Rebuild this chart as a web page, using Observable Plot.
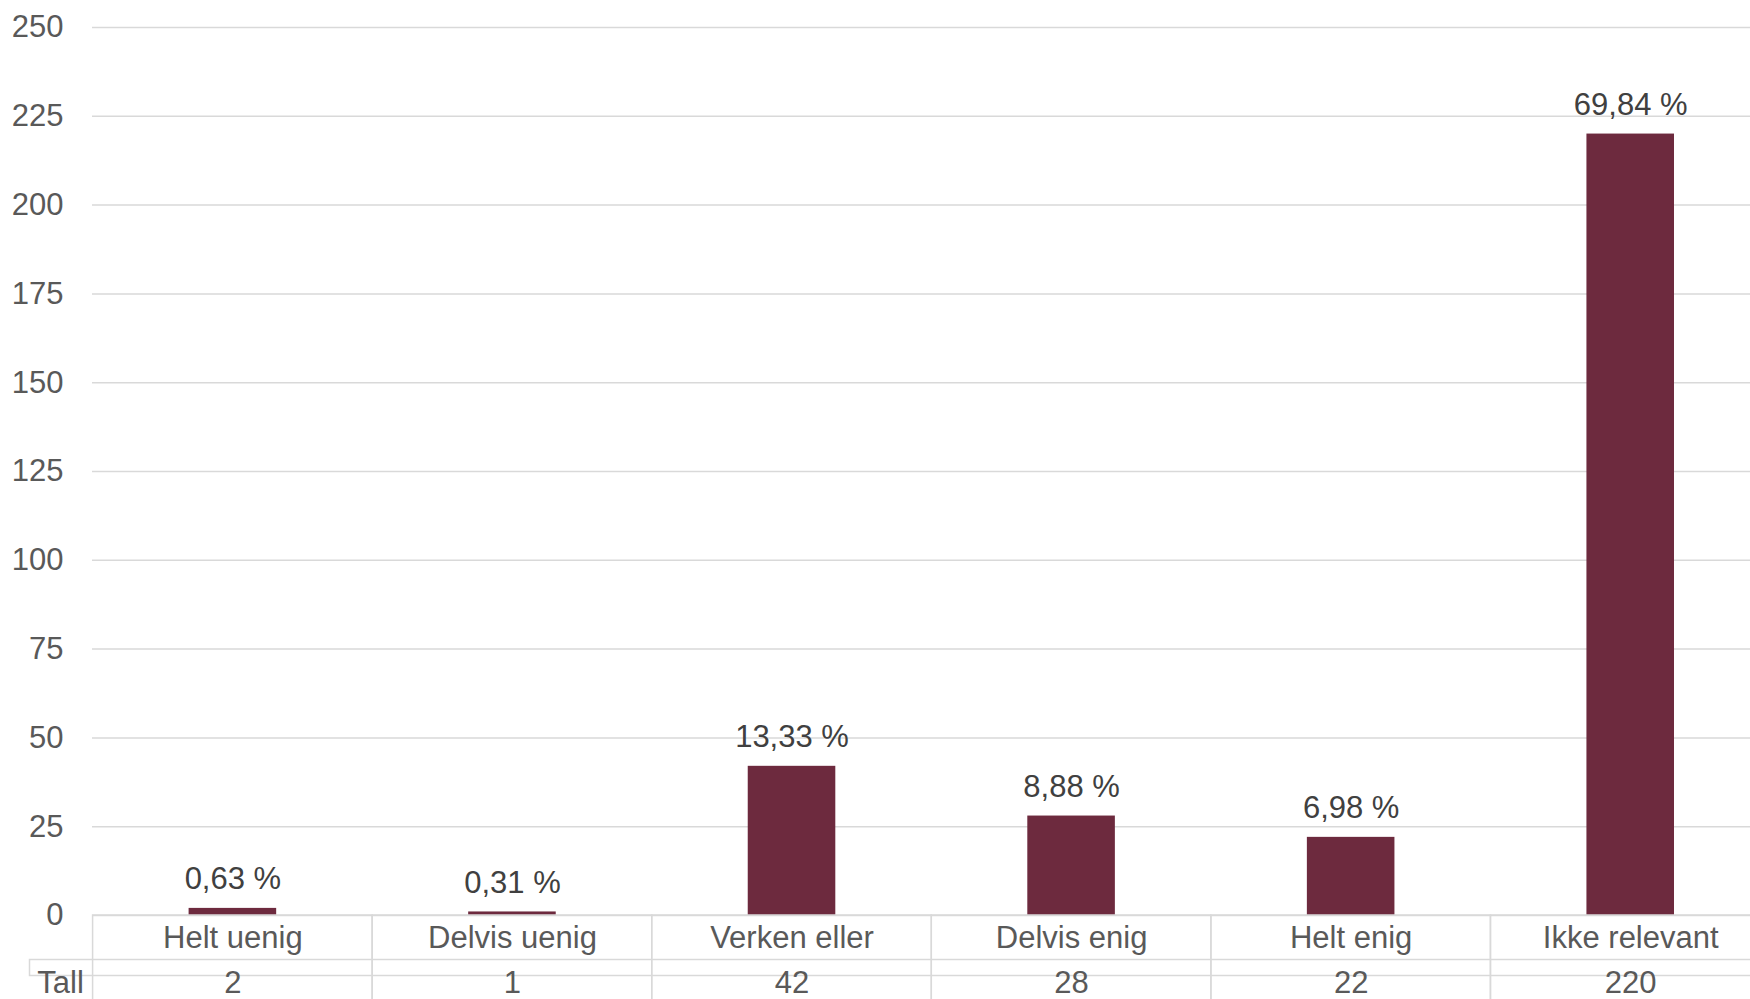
<!DOCTYPE html>
<html><head><meta charset="utf-8">
<script src="https://cdn.jsdelivr.net/npm/d3@7"></script>
<script src="https://cdn.jsdelivr.net/npm/@observablehq/plot@0.6"></script>
<style>html,body{margin:0;padding:0;background:#fff;overflow:hidden}</style>
</head><body><div id="chart"></div>
<script>
const categories = ["Helt uenig", "Delvis uenig", "Verken eller", "Delvis enig", "Helt enig", "Ikke relevant"];
const counts = [2, 1, 42, 28, 22, 220];
const percentLabels = ["0,63 %", "0,31 %", "13,33 %", "8,88 %", "6,98 %", "69,84 %"];
const yTicks = [0, 25, 50, 75, 100, 125, 150, 175, 200, 225, 250];
const rowHeader = "Tall";

const rows = categories.map((c, i) => ({category: c, count: counts[i], pct: percentLabels[i]}));
const grid = "#d9d9d9";

const chart = Plot.plot({
  width: 1750, height: 999,
  marginTop: 27, marginBottom: 84, marginLeft: 92, marginRight: 0,
  style: {fontFamily: "'Liberation Sans', Arial, sans-serif", fontSize: "31px", color: "#595959", background: "#fff"},
  x: {domain: categories, range: [92.6, 1770], padding: 0, round: false, axis: null},
  y: {domain: [0, 250], ticks: yTicks, tickSize: 0, tickPadding: 29, label: null},
  marks: [
    Plot.ruleY(yTicks, {stroke: grid, strokeWidth: 1.5}),
    Plot.barY(rows, {x: "category", y: "count", fill: "#6D2A3E", insetLeft: 96, insetRight: 96}),
    Plot.text(rows, {x: "category", y: "count", text: "pct", dy: -19, lineAnchor: "bottom", fill: "#404040"}),
    Plot.barY(rows, {x: "category", y1: 0, y2: 0, insetBottom: -90, fill: "none", stroke: grid, strokeWidth: 1.5}),
    Plot.frame({insetTop: 932, insetLeft: -63, insetRight: -60, insetBottom: -60, stroke: grid, strokeWidth: 1.5}),
    Plot.text(rows, {x: "category", text: "category", frameAnchor: "bottom", lineAnchor: "bottom", dy: 32}),
    Plot.text(rows, {x: "category", text: d => String(d.count), frameAnchor: "bottom", lineAnchor: "bottom", dy: 77}),
    Plot.text([rowHeader], {text: d => d, frameAnchor: "bottom-left", textAnchor: "middle", lineAnchor: "bottom", dx: -32, dy: 77})
  ]
});
document.getElementById("chart").append(chart);
</script>
</body></html>
